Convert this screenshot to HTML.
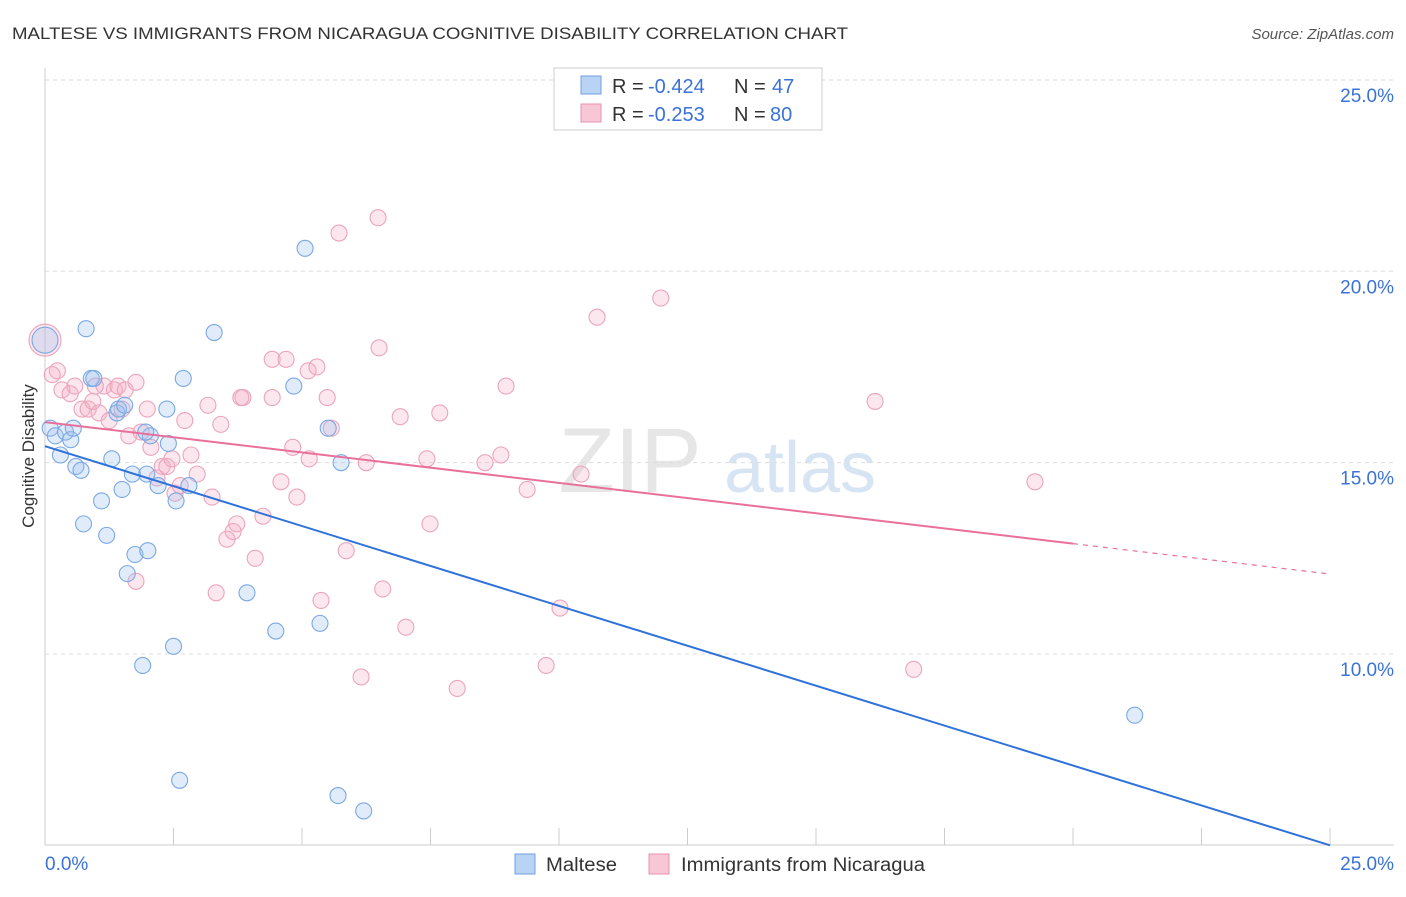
<!DOCTYPE html>
<html><head><meta charset="utf-8"><style>
body{margin:0;background:#fff;font-family:"Liberation Sans",sans-serif;}
svg text{font-family:"Liberation Sans",sans-serif;}
</style></head><body>
<svg id="c" width="1406" height="892">
<text x="12" y="39" font-size="17" fill="#333" textLength="836" lengthAdjust="spacingAndGlyphs">MALTESE VS IMMIGRANTS FROM NICARAGUA COGNITIVE DISABILITY CORRELATION CHART</text>
<text x="1394" y="39" font-size="15" fill="#555" font-style="italic" text-anchor="end">Source: ZipAtlas.com</text>
<text x="34" y="456" font-size="17" fill="#333" text-anchor="middle" transform="rotate(-90 34 456)">Cognitive Disability</text>
<g><text x="630" y="492" font-size="92" fill="#e6e6e6" font-family="Liberation Serif" text-anchor="middle">ZIP</text><text x="800" y="492" font-size="72" fill="#d6e4f4" text-anchor="middle">atlas</text></g>
<g id="grid"></g><g id="pts"></g><g id="lines"></g>
<g>
<rect x="554" y="68" width="268" height="62" fill="#fff" stroke="#ccc"/>
<rect x="581" y="76" width="20" height="18" fill="#b9d3f5" stroke="#6fa0e0"/>
<rect x="581" y="104" width="20" height="18" fill="#f8c7d6" stroke="#e890aa"/>
<g font-size="20">
<text x="612" y="93" fill="#333">R =</text><text x="648" y="93" fill="#3a72d8">-0.424</text><text x="734" y="93" fill="#333">N =</text><text x="772" y="93" fill="#3a72d8">47</text></g>
<g font-size="20">
<text x="612" y="121" fill="#333">R =</text><text x="648" y="121" fill="#3a72d8">-0.253</text><text x="734" y="121" fill="#333">N =</text><text x="770" y="121" fill="#3a72d8">80</text></g>
</g>
<g>
<rect x="515" y="854" width="20" height="20" fill="#b9d3f5" stroke="#6fa0e0"/>
<text x="546" y="871" font-size="19" fill="#333" textLength="71" lengthAdjust="spacingAndGlyphs">Maltese</text>
<rect x="649" y="854" width="20" height="20" fill="#f8c7d6" stroke="#e890aa"/>
<text x="681" y="871" font-size="19" fill="#333" textLength="244" lengthAdjust="spacingAndGlyphs">Immigrants from Nicaragua</text>
</g>
</svg>
<script>
const yTicks=[10,15,20,25];
const xTickLabels=["0.0%","25.0%"];
const maltX=[0.1,0.2,0.3,0.4,0.5,0.55,0.6,0.7,0.75,0.8,0.9,0.95,1.1,1.2,1.3,1.4,1.43,1.5,1.55,1.6,1.7,1.75,1.9,1.98,2.0,2.05,2.2,2.37,2.4,2.5,2.55,2.62,2.69,2.8,3.29,3.93,4.49,4.84,5.06,5.35,5.51,5.7,5.76,6.2,21.2,0.0,1.96];
const maltY=[15.9,15.7,15.2,15.8,15.6,15.9,14.9,14.8,13.4,18.5,17.2,17.2,14.0,13.1,15.1,16.3,16.4,14.3,16.5,12.1,14.7,12.6,9.7,14.7,12.7,15.7,14.4,16.4,15.5,10.2,14.0,6.7,17.2,14.4,18.4,11.6,10.6,17.0,20.6,10.8,15.9,6.3,15.0,5.9,8.4,18.2,15.8];
const nicX=[0.0,0.24,0.33,0.49,0.58,0.72,0.84,0.93,1.05,1.15,1.25,1.35,1.42,1.5,1.56,1.63,1.77,1.77,1.87,1.99,2.06,2.18,2.28,2.37,2.47,2.53,2.63,2.72,2.84,2.96,3.17,3.25,3.33,3.42,3.54,3.66,3.73,3.85,3.81,4.09,4.24,4.42,4.42,4.59,4.69,4.82,4.9,5.12,5.14,5.29,5.37,5.49,5.57,5.72,5.86,6.15,6.25,6.48,6.5,6.57,6.91,7.02,7.43,7.49,7.68,8.02,8.56,8.87,8.97,9.38,9.75,10.02,10.43,10.74,11.98,16.15,16.9,19.26,0.14,0.98];
const nicY=[18.2,17.4,16.9,16.8,17.0,16.4,16.4,16.6,16.3,17.0,16.1,16.9,17.0,16.4,16.9,15.7,11.9,17.1,15.8,16.4,15.4,14.6,14.9,14.9,15.1,14.2,14.4,16.1,15.2,14.7,16.5,14.1,11.6,16.0,13.0,13.2,13.4,16.7,16.7,12.5,13.6,16.7,17.7,14.5,17.7,15.4,14.1,17.4,15.1,17.5,11.4,16.7,15.9,21.0,12.7,9.4,15.0,21.4,18.0,11.7,16.2,10.7,15.1,13.4,16.3,9.1,15.0,15.2,17.0,14.3,9.7,11.2,14.7,18.8,19.3,16.6,9.6,14.5,17.3,17.0];
const maltLine=[15.43,5.0], nicLine=[16.06,12.09];
const X=v=>45+v*51.4, Y=v=>654-(v-10)*38.27;
const NS="http://www.w3.org/2000/svg";
function mk(t,a,p){const e=document.createElementNS(NS,t);for(const k in a)e.setAttribute(k,a[k]);p.appendChild(e);return e;}
const g=document.getElementById('grid');
for(const t of yTicks){
 const l=mk('line',{x1:45,x2:1394,y1:Y(t),y2:Y(t),stroke:'#ddd','stroke-dasharray':'4 4'},g);
 
 
 const tx=mk('text',{x:1394,y:Y(t)+22,'font-size':19,fill:'#3a72d8','text-anchor':'end'},g);tx.textContent=t.toFixed(1)+'%';
 
 
}
const ax=mk('line',{x1:45,x2:1394,y1:845,y2:845,stroke:'#ccc'},g);


const ay=mk('line',{x1:45,x2:45,y1:68,y2:845,stroke:'#ccc'},g);


for(let i=0;i<=10;i++){const l=mk('line',{x1:X(i*2.5),x2:X(i*2.5),y1:828,y2:845,stroke:'#ccc'},g);
 
 }
const xl0=mk('text',{x:45,y:870,'font-size':19,fill:'#3a72d8'},g);xl0.textContent=xTickLabels[0];


const xl1=mk('text',{x:1394,y:870,'font-size':19,fill:'#3a72d8','text-anchor':'end'},g);xl1.textContent=xTickLabels[1];


const p=document.getElementById('pts');
nicX.forEach((x,i)=>{const c=mk('circle',{cx:X(x),cy:Y(nicY[i]),r:i==0?16:8,fill:'rgba(245,175,198,0.3)',stroke:'#eba5bb','stroke-width':1.1},p);
 
 });
maltX.forEach((x,i)=>{const c=mk('circle',{cx:X(x),cy:Y(maltY[i]),r:i==45?13:8,fill:'rgba(155,193,240,0.3)',stroke:'#7aa8e4','stroke-width':1.1},p);
 
 });
const L=document.getElementById('lines');
const bl=mk('line',{x1:X(0),y1:Y(maltLine[0]),x2:X(25),y2:Y(maltLine[1]),stroke:'#2f72d9','stroke-width':2},L);


const nv=v=>nicLine[0]+(nicLine[1]-nicLine[0])*v/25;
const pl=mk('line',{x1:X(0),y1:Y(nicLine[0]),x2:X(20),y2:Y(nv(20)),stroke:'#e8709a','stroke-width':2},L);


const pd=mk('line',{x1:X(20),y1:Y(nv(20)),x2:X(25),y2:Y(nicLine[1]),stroke:'#e8709a','stroke-width':1.2,'stroke-dasharray':'5 5'},L);


</script>
</body></html>
